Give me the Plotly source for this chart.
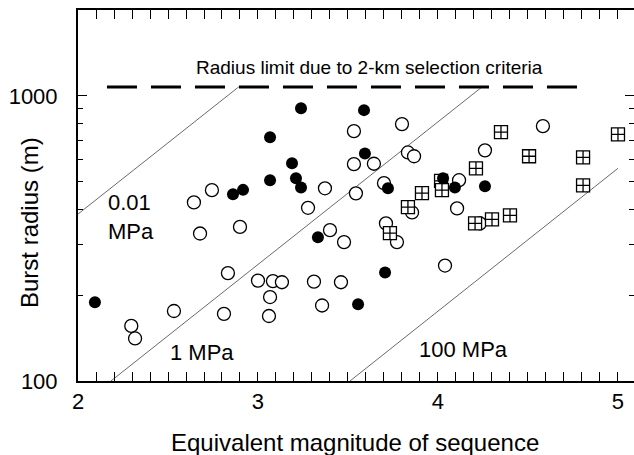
import numpy as np
import plotly.graph_objects as go

# ---- data ----
filled_m = [2.094, 2.861, 2.917, 3.067, 3.067, 3.239, 3.189, 3.211, 3.239, 3.589,
            3.594, 3.722, 4.028, 4.094, 4.261, 3.333, 3.706, 3.556]
filled_r = [189, 452, 468, 716, 506, 905, 580, 514, 477, 891,
            628, 474, 514, 477, 482, 319, 240, 186]

open_m = [2.644, 2.744, 2.678, 2.900, 2.296, 2.317, 2.533, 2.833, 2.811, 3.000,
          3.083, 3.133, 3.067, 3.061, 3.311, 3.461, 3.356, 3.478, 3.400, 3.772,
          4.039, 3.533, 3.800, 3.833, 3.867, 3.533, 3.644, 3.700, 3.372, 3.544,
          3.278, 3.711, 3.856, 4.583, 4.261, 4.117, 4.106, 4.233]
open_r = [423, 467, 329, 347, 156, 141, 176, 239, 172, 225,
          224, 222, 197, 169, 223, 222, 184, 307, 338, 307,
          254, 752, 796, 633, 614, 576, 578, 494, 474, 455,
          405, 357, 390, 783, 644, 506, 403, 357]

square_m = [4.350, 4.506, 4.211, 4.806, 4.806, 5.000, 4.206, 4.300, 4.400, 3.911,
            4.017, 4.022, 3.833, 3.733]
square_r = [746, 614, 557, 608, 485, 733, 357, 369, 381, 456,
            503, 467, 407, 330]

# constant stress-drop reference lines (endpoints)
line_001_m = [2.0, 2.893]
line_001_r = [385, 1075]
line_1_m = [2.183, 4.245]
line_1_r = [100, 1075]
line_100_m = [3.511, 5.0]
line_100_r = [100, 557]

# radius limit line
limit_m = [2.161, 4.778]
limit_r = [1075, 1075]

x_range = [2.0, 5.089]
y_range = [100, 2000]
x_major = [2, 3, 4, 5]
y_major = [100, 1000]
y_major_text = ["100", "1000"]
y_minor = [200, 300, 400, 500, 600, 700, 800, 900]

FONT = "Liberation Sans, Arial, Helvetica, sans-serif"

fig = go.Figure()

for xm, yr in [(line_001_m, line_001_r), (line_1_m, line_1_r), (line_100_m, line_100_r)]:
    fig.add_trace(go.Scatter(x=xm, y=yr, mode="lines",
                             line=dict(color="#444444", width=0.8),
                             hoverinfo="skip", showlegend=False))

fig.add_trace(go.Scatter(x=limit_m, y=limit_r, mode="lines",
                         line=dict(color="black", width=3, dash="30px,14px"),
                         hoverinfo="skip", showlegend=False))

fig.add_trace(go.Scatter(x=open_m, y=open_r, mode="markers",
                         marker=dict(symbol="circle", size=13, color="white",
                                     line=dict(color="black", width=1.3)),
                         showlegend=False))
fig.add_trace(go.Scatter(x=square_m, y=square_r, mode="markers",
                         marker=dict(symbol="square-cross", size=13, color="white",
                                     line=dict(color="black", width=1.3)),
                         showlegend=False))
fig.add_trace(go.Scatter(x=filled_m, y=filled_r, mode="markers",
                         marker=dict(symbol="circle", size=12, color="black",
                                     line=dict(color="black", width=0)),
                         showlegend=False))

ylog = [np.log10(y_range[0]), np.log10(y_range[1])]

fig.update_layout(
    width=634, height=455,
    margin=dict(l=78, r=0, t=10, b=74),
    paper_bgcolor="white", plot_bgcolor="white",
    font=dict(family=FONT, color="black", size=22),
    xaxis=dict(range=x_range, tickvals=x_major, ticks="inside", ticklen=9,
               tickwidth=1.3, tickcolor="black",
               showline=True, linecolor="black", linewidth=2, mirror="allticks",
               showgrid=False, zeroline=False,
               tickfont=dict(size=22, family=FONT), ticklabelstandoff=0,
               minor=dict(dtick=0.1, ticks="inside", ticklen=5, tickwidth=1,
                          tickcolor="black", showgrid=False)),
    yaxis=dict(type="log", range=ylog,
               tickvals=y_major, ticktext=y_major_text, ticks="inside", ticklen=9,
               tickwidth=1.3, tickcolor="black",
               showline=True, linecolor="black", linewidth=2, mirror=False,
               showgrid=False, zeroline=False,
               tickfont=dict(size=22, family=FONT), ticklabelstandoff=14,
               minor=dict(tickvals=y_minor, ticks="inside", ticklen=5, tickwidth=1,
                          tickcolor="black", showgrid=False)),
    yaxis2=dict(type="log", range=ylog, overlaying="y", side="right",
                tickvals=y_major, ticks="inside", ticklen=9, tickwidth=1.3,
                tickcolor="black", showline=False, showgrid=False, zeroline=False,
                showticklabels=False,
                minor=dict(tickvals=y_minor, ticks="inside", ticklen=5, tickwidth=1,
                           tickcolor="black", showgrid=False)),
)
# invisible trace to activate the right-hand tick axis
fig.add_trace(go.Scatter(x=[x_range[0]], y=[y_range[0]], yaxis="y2", mode="markers",
                         marker=dict(opacity=0), hoverinfo="skip", showlegend=False))

ann = [
    dict(text="Radius limit due to 2-km selection criteria", x=3.619, y=np.log10(1262),
         xref="x", yref="y", showarrow=False, font=dict(size=19, family=FONT),
         xanchor="center", yanchor="middle"),
    dict(text="0.01<br>MPa", x=2.155, y=np.log10(375), xref="x", yref="y",
         showarrow=False, align="left", font=dict(size=22, family=FONT),
         xanchor="left", yanchor="middle"),
    dict(text="1 MPa", x=2.689, y=np.log10(126), xref="x", yref="y",
         showarrow=False, font=dict(size=22, family=FONT),
         xanchor="center", yanchor="middle"),
    dict(text="100 MPa", x=4.139, y=np.log10(129), xref="x", yref="y",
         showarrow=False, font=dict(size=22, family=FONT),
         xanchor="center", yanchor="middle"),
    dict(text="Equivalent magnitude of sequence", x=(355 - 78) / 556, y=(381 - 442) / 371,
         xref="paper", yref="paper", showarrow=False, font=dict(size=24, family=FONT),
         xanchor="center", yanchor="middle"),
    dict(text="Burst radius (m)", x=(29 - 78) / 556, y=(381 - 223) / 371,
         xref="paper", yref="paper", showarrow=False, textangle=-90,
         font=dict(size=24, family=FONT), xanchor="center", yanchor="middle"),
]
fig.update_layout(annotations=ann)

fig.write_html("out.html")
